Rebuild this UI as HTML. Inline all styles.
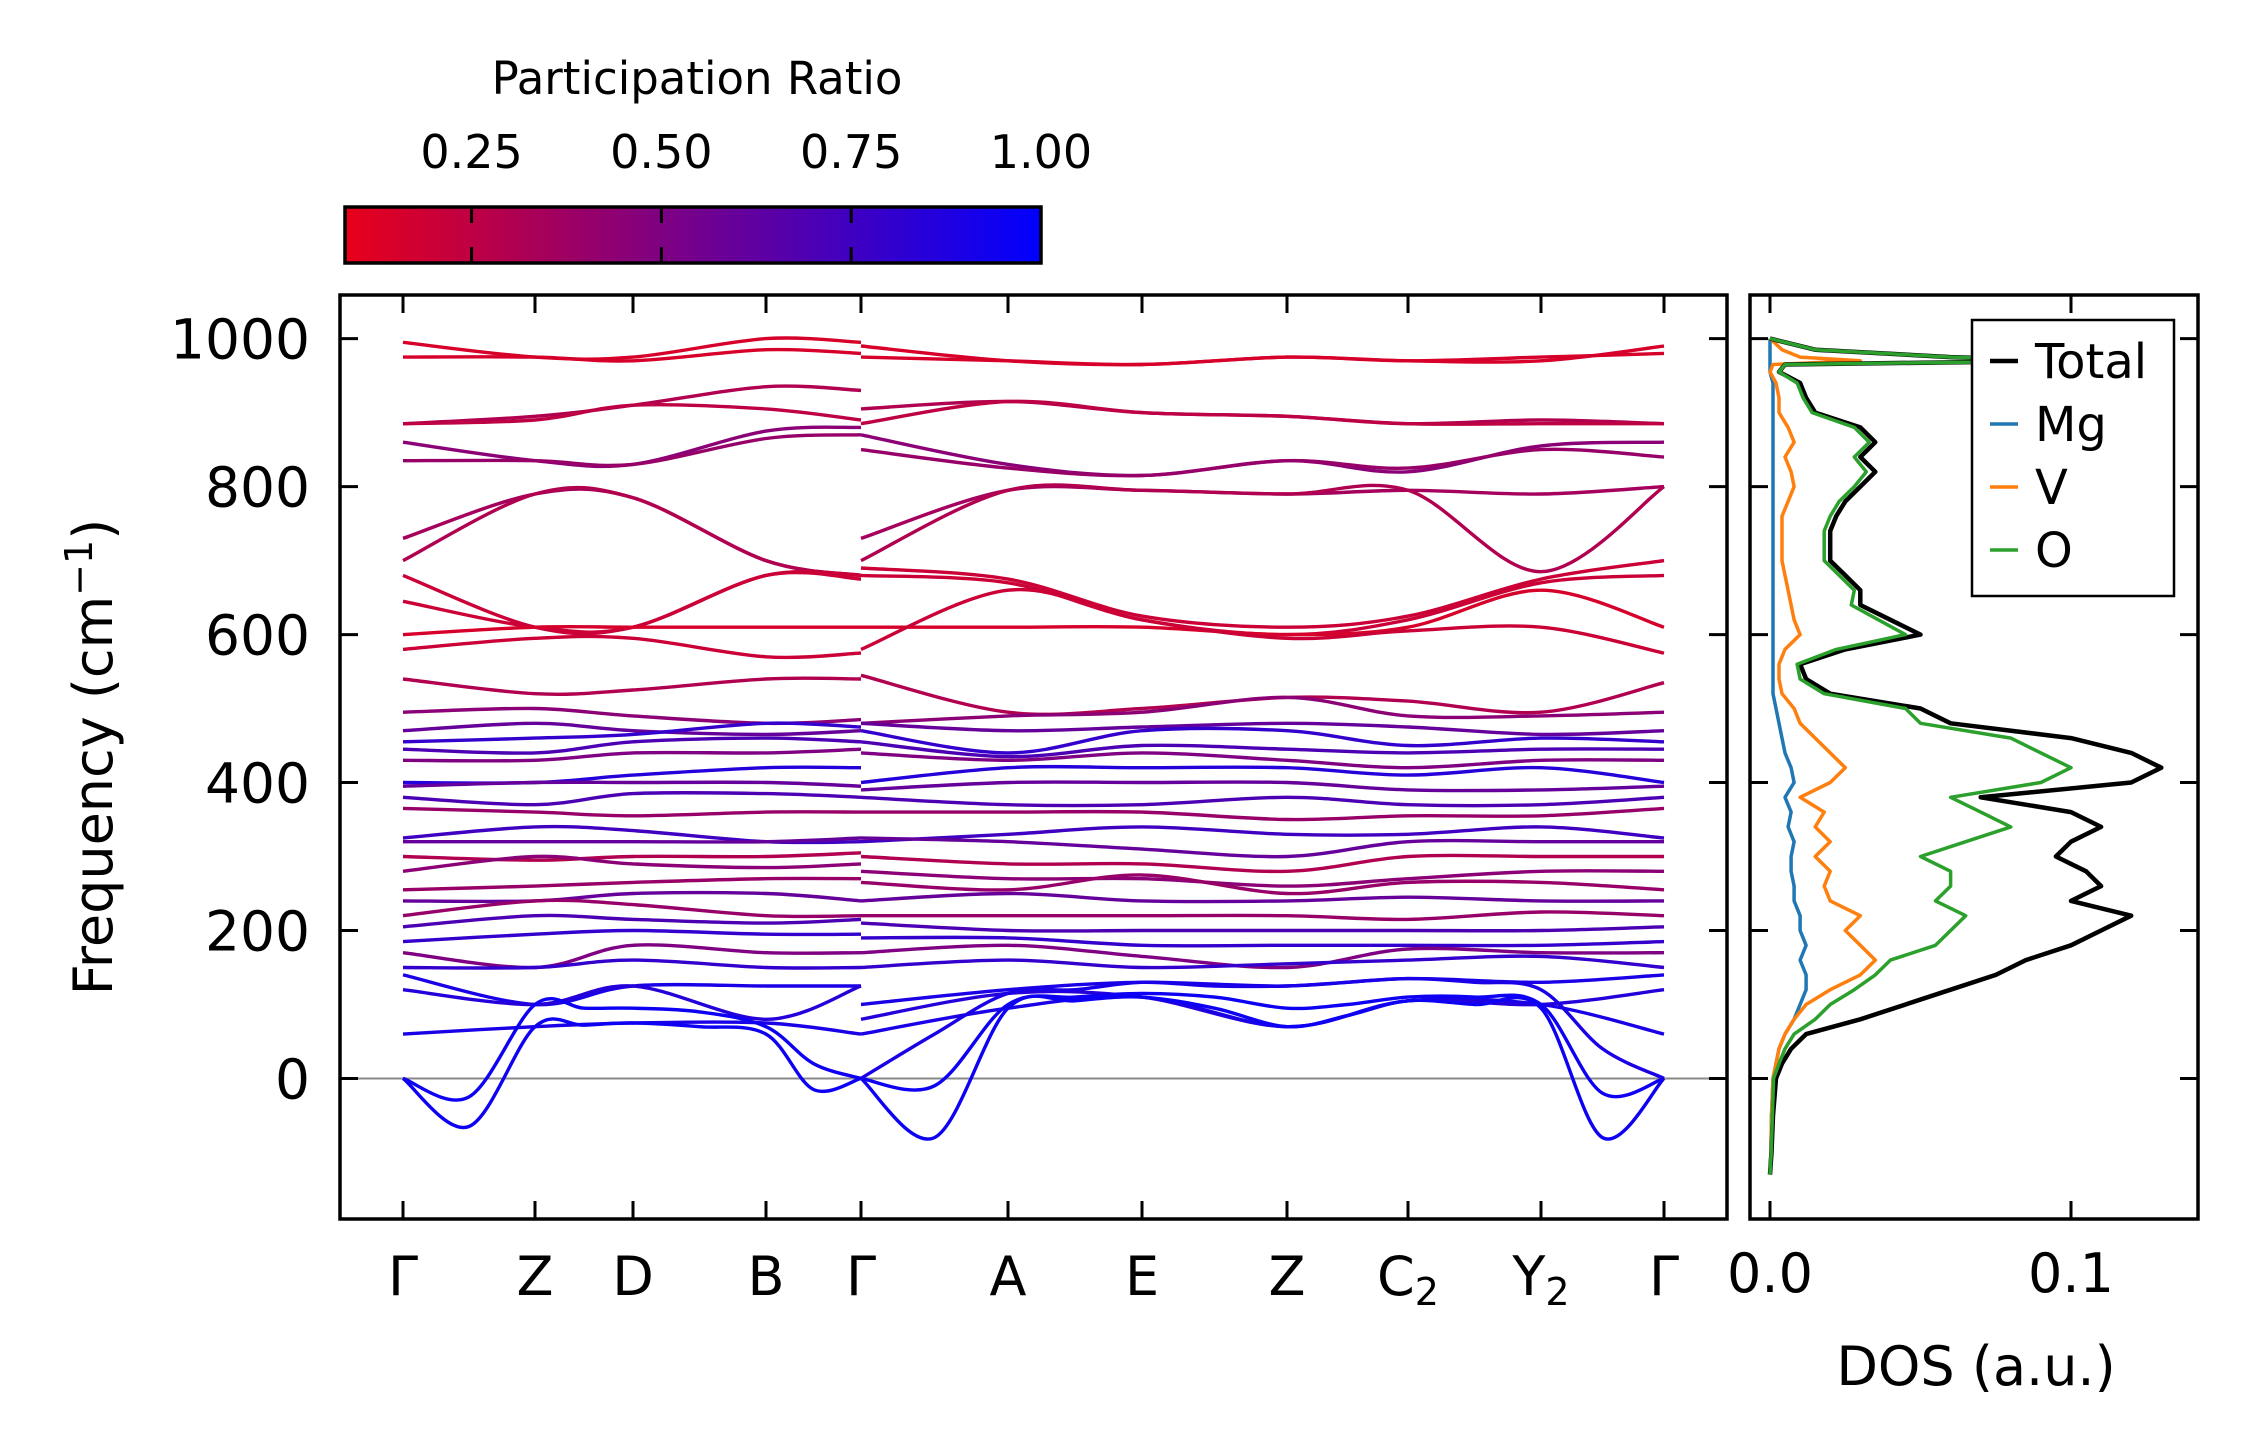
<!DOCTYPE html>
<html><head><meta charset="utf-8"><style>
html,body{margin:0;padding:0;background:#fff;}
svg{display:block;font-family:"DejaVu Sans","Liberation Sans",sans-serif;}
</style></head><body>
<svg id="fig" width="2259" height="1455" viewBox="0 0 2259 1455" xmlns="http://www.w3.org/2000/svg">
<defs>
<linearGradient id="cmap" x1="0" x2="1" y1="0" y2="0">
<stop offset="0" stop-color="rgb(232,0,26)"/><stop offset="1" stop-color="rgb(0,0,255)"/>
</linearGradient>
<clipPath id="bandclip"><rect x="340" y="295" width="1387" height="924"/></clipPath>
<clipPath id="dosclip"><rect x="1750" y="295" width="448" height="924"/></clipPath>
</defs>
<g id="colorbar">
<text x="697" y="94" font-size="45" text-anchor="middle">Participation Ratio</text>
<rect x="345" y="207" width="696" height="56" fill="url(#cmap)" stroke="#000" stroke-width="3.5"/>
</g>
<g id="bands"></g>
<g id="dos"></g>
</svg>
<script>
// ---------------- data ----------------
const kLabels = ["Γ","Z","D","B","Γ","A","E","Z","C₂","Y₂","Γ"];
const freqTicks = [0,200,400,600,800,1000];
const cbarTicks = [0.25,0.50,0.75,1.00];
// bands: values at G Z D B G | G A E Z C2 Y2 G
const bandLeft = [
[995,975,975,1000,995],[975,975,970,985,980],[885,895,910,935,930],[885,890,910,905,890],
[860,835,830,875,880],[835,835,830,865,870],[730,790,785,700,680],[700,790,785,700,680],
[680,610,610,680,680],[645,610,610,680,675],[600,610,610,610,610],[580,595,595,570,575],
[540,520,525,540,540],[495,500,490,480,485],[470,480,470,465,470],[455,460,465,480,475],
[445,440,455,460,455],[430,430,440,440,445],[400,400,410,420,420],[395,400,400,400,395],
[380,370,385,385,380],[365,360,355,360,360],[325,340,335,320,320],[320,320,320,320,325],
[300,295,300,300,305],[280,300,290,285,290],[255,260,265,270,270],[240,240,250,250,240],
[220,240,235,220,220],[205,220,215,210,215],[185,195,200,195,195],[170,150,180,170,170],
[150,150,160,150,150],[140,100,125,125,125],[120,100,125,80,125],[60,70,75,75,60]];
const bandRight = [
[990,970,965,975,970,970,990],[975,970,965,975,970,975,980],[905,915,900,895,885,890,885],[885,915,900,895,885,885,885],
[870,830,815,835,820,855,860],[850,825,815,835,825,850,840],[730,795,795,790,795,790,800],[700,795,795,790,795,685,800],
[690,675,625,610,625,675,700],[680,670,620,600,620,670,680],[610,610,610,600,610,660,610],[580,660,620,595,605,610,575],
[545,495,500,515,510,495,535],[480,490,495,515,490,490,495],[480,470,475,480,475,465,470],[470,440,470,470,450,460,455],
[455,435,450,445,440,445,445],[440,430,440,430,420,430,430],[400,420,420,420,410,420,400],[390,400,400,400,390,390,395],
[380,370,370,380,370,370,380],[360,360,360,350,355,355,365],[320,330,340,330,330,340,325],[325,320,310,300,320,320,320],
[300,290,290,280,300,300,300],[280,270,270,260,270,280,280],[265,255,275,250,265,265,255],[240,250,240,240,245,240,240],
[220,220,220,220,215,225,220],[210,200,200,200,200,200,205],[190,190,180,180,180,180,185],[170,180,165,150,175,170,170],
[150,160,150,155,160,165,150],[100,120,130,125,135,130,140],[80,115,110,70,105,100,120],[60,95,110,70,105,100,60]];
const bandPR = [0.15,0.15,0.3,0.25,0.45,0.4,0.35,0.3,0.2,0.2,0.15,0.2,0.3,0.45,0.6,0.8,0.7,0.5,0.85,0.6,0.7,0.4,0.75,0.6,0.3,0.45,0.4,0.6,0.4,0.7,0.8,0.5,0.8,0.9,0.85,0.9];
// acoustic branches at ticks and midpoints
const acLeft = [[0,-65,70,72,75,70,60,-15,0],[0,-25,100,95,95,90,70,20,0]];
const acRight = [[0,-80,95,105,110,95,70,85,105,100,95,-80,0],[0,-10,100,110,115,110,95,100,110,110,100,-20,0],[0,60,115,120,130,125,125,130,135,130,120,40,0]];
const acPR = [0.95,0.95,0.9];
// DOS
const dosFreq = [-130,-100,-50,0,20,40,60,80,100,120,140,160,180,200,220,240,260,280,300,320,340,360,380,400,420,440,460,480,500,520,540,560,580,600,620,640,660,680,700,720,740,760,780,800,820,840,860,880,900,920,940,955,965,970,975,985,1000];
const dosTotal = [0,0.0005,0.001,0.002,0.004,0.007,0.012,0.03,0.045,0.06,0.075,0.085,0.1,0.11,0.12,0.1,0.11,0.105,0.095,0.1,0.11,0.1,0.07,0.12,0.13,0.12,0.1,0.06,0.05,0.02,0.012,0.01,0.025,0.05,0.04,0.03,0.03,0.025,0.02,0.02,0.02,0.022,0.025,0.03,0.035,0.03,0.035,0.03,0.015,0.012,0.01,0.003,0.005,0.1,0.06,0.015,0];
const dosO = [0,0.0004,0.0008,0.0012,0.003,0.005,0.008,0.015,0.02,0.028,0.035,0.04,0.055,0.06,0.065,0.055,0.06,0.06,0.05,0.065,0.08,0.07,0.06,0.09,0.1,0.09,0.08,0.05,0.045,0.018,0.01,0.009,0.022,0.045,0.036,0.027,0.028,0.023,0.018,0.018,0.018,0.02,0.023,0.028,0.032,0.028,0.033,0.028,0.014,0.011,0.009,0.003,0.005,0.1,0.06,0.015,0];
const dosV = [0,0.0003,0.0005,0.001,0.002,0.003,0.005,0.008,0.012,0.02,0.03,0.035,0.03,0.025,0.03,0.02,0.018,0.02,0.015,0.02,0.015,0.018,0.01,0.02,0.025,0.02,0.015,0.01,0.008,0.004,0.003,0.003,0.005,0.01,0.008,0.007,0.006,0.005,0.004,0.004,0.004,0.004,0.006,0.008,0.007,0.005,0.008,0.006,0.003,0.003,0.002,0.0,0.001,0.03,0.01,0.004,0];
const dosMg = [0,0.0003,0.0005,0.001,0.002,0.003,0.005,0.008,0.01,0.012,0.012,0.01,0.012,0.01,0.01,0.008,0.008,0.007,0.007,0.008,0.006,0.007,0.005,0.008,0.007,0.005,0.004,0.003,0.002,0.001,0.001,0.001,0.001,0.001,0.001,0.001,0.001,0.001,0.001,0.001,0.001,0.001,0.001,0.001,0.001,0.001,0.001,0.001,0.001,0.001,0.001,0.0,0.0,0.0,0.0,0.0,0];
const dosTicks = [0.0,0.1];
// ---------------- layout ----------------
const NS="http://www.w3.org/2000/svg";
const B={l:340,r:1727,t:295,b:1219};
const D={l:1750,r:2198,t:295,b:1219};
const fmin=-190,fmax=1059;
const kPix=[403,535,633,766,861,1008,1142,1287,1408,1541,1664];
const cb={l:345,r:1041,v0:0.0833,v1:1.0};
const yS=f=>B.b-(f-fmin)/(fmax-fmin)*(B.b-B.t);
const dX=v=>1770+v*3010;
const cbX=v=>cb.l+(v-cb.v0)/(cb.v1-cb.v0)*(cb.r-cb.l);
function prColor(p){const t=Math.max(0,Math.min(1,(p-cb.v0)/(cb.v1-cb.v0)));return `rgb(${Math.round(232*(1-t))},0,${Math.round(26+229*t)})`;}
function el(tag,attrs,parent){const e=document.createElementNS(NS,tag);for(const k in attrs)e.setAttribute(k,attrs[k]);parent.appendChild(e);return e;}
function smooth(pts){let d=`M${pts[0][0].toFixed(1)},${pts[0][1].toFixed(1)}`;
 for(let i=0;i<pts.length-1;i++){const p0=pts[Math.max(0,i-1)],p1=pts[i],p2=pts[i+1],p3=pts[Math.min(pts.length-1,i+2)];
 const c1=[p1[0]+(p2[0]-p0[0])/6,p1[1]+(p2[1]-p0[1])/6],c2=[p2[0]-(p3[0]-p1[0])/6,p2[1]-(p3[1]-p1[1])/6];
 d+=`C${c1[0].toFixed(1)},${c1[1].toFixed(1)} ${c2[0].toFixed(1)},${c2[1].toFixed(1)} ${p2[0].toFixed(1)},${p2[1].toFixed(1)}`;}return d;}
const gB=document.getElementById('bands'),gD=document.getElementById('dos'),gC=document.getElementById('colorbar');
// colorbar ticks
cbarTicks.forEach(v=>{const x=cbX(v);
 let t=el('line',{x1:x,x2:x,y1:207,y2:223,stroke:'#000','stroke-width':3},gC);
 
 t=el('line',{x1:x,x2:x,y1:247,y2:263,stroke:'#000','stroke-width':3},gC);
 
 const l=el('text',{x:x,y:168,'font-size':46,'text-anchor':'middle'},gC);l.textContent=v.toFixed(2);
 });
// band frame & zero line
const zl=el('line',{x1:B.l,x2:B.r,y1:yS(0),y2:yS(0),stroke:'#888','stroke-width':2},gB);

const clipG=el('g',{'clip-path':'url(#bandclip)'},gB);

function drawBand(vals,xs,pr){const pts=vals.map((f,i)=>[xs[i],yS(f)]);
 const p=el('path',{d:smooth(pts),fill:'none',stroke:prColor(pr),'stroke-width':3.4},clipG);
 }
const xl=kPix.slice(0,5),xr=kPix.slice(4);
bandLeft.forEach((v,i)=>drawBand(v,xl,bandPR[i]));
bandRight.forEach((v,i)=>drawBand(v,xr,bandPR[i]));
const half=a=>{const o=[];for(let i=0;i<a.length-1;i++){o.push(a[i],(a[i]+a[i+1])/2);}o.push(a[a.length-1]);return o;};
acLeft.forEach((v,i)=>drawBand(v,half(xl),acPR[i]));
acRight.forEach((v,i)=>drawBand(v,half(xr),acPR[i]));
const fr=el('rect',{x:B.l,y:B.t,width:B.r-B.l,height:B.b-B.t,fill:'none',stroke:'#000','stroke-width':3.5},gB);

kPix.forEach((x,i)=>{
 let t=el('line',{x1:x,x2:x,y1:B.b,y2:B.b-18,stroke:'#000','stroke-width':3},gB);
 
 t=el('line',{x1:x,x2:x,y1:B.t,y2:B.t+18,stroke:'#000','stroke-width':3},gB);
 
 const lab=kLabels[i];const tx=el('text',{x:x,y:1295,'font-size':54,'text-anchor':'middle'},gB);
 if(lab.length>1){tx.textContent=lab[0];const s=el('tspan',{'font-size':38,dy:10},tx);s.textContent='2';}
 else tx.textContent=lab;
 });
freqTicks.forEach(f=>{const y=yS(f);
 let t=el('line',{x1:B.l,x2:B.l+18,y1:y,y2:y,stroke:'#000','stroke-width':3},gB);
 
 t=el('line',{x1:B.r,x2:B.r-18,y1:y,y2:y,stroke:'#000','stroke-width':3},gB);
 
 const l=el('text',{x:310,y:y+20,'font-size':55,'text-anchor':'end'},gB);l.textContent=f;
 });
const yt=el('text',{x:112,y:757,'font-size':54,'text-anchor':'middle',transform:'rotate(-90 112 757)'},gB);
yt.innerHTML='Frequency (cm<tspan font-size="38" dy="-20">−1</tspan><tspan dy="20">)</tspan>';

// DOS
const dG=el('g',{'clip-path':'url(#dosclip)'},gD);

const series=[['dos-mg',dosMg,'#1f77b4'],['dos-v',dosV,'#ff7f0e'],['dos-total',dosTotal,'#000'],['dos-o',dosO,'#2ca02c']];
series.forEach(([n,arr,c])=>{const d='M'+arr.map((v,i)=>`${dX(v).toFixed(1)},${yS(dosFreq[i]).toFixed(1)}`).join('L');
 const p=el('path',{d:d,fill:'none',stroke:c,'stroke-width':n==='dos-total'?4.5:3.5,'stroke-linejoin':'round'},dG);
 });
const dfr=el('rect',{x:D.l,y:D.t,width:D.r-D.l,height:D.b-D.t,fill:'none',stroke:'#000','stroke-width':3.5},gD);

freqTicks.forEach(f=>{const y=yS(f);
 let t=el('line',{x1:D.l,x2:D.l+18,y1:y,y2:y,stroke:'#000','stroke-width':3},gD);
 
 t=el('line',{x1:D.r,x2:D.r-18,y1:y,y2:y,stroke:'#000','stroke-width':3},gD);
 });
dosTicks.forEach(v=>{const x=dX(v);
 let t=el('line',{x1:x,x2:x,y1:D.b,y2:D.b-18,stroke:'#000','stroke-width':3},gD);
 
 t=el('line',{x1:x,x2:x,y1:D.t,y2:D.t+18,stroke:'#000','stroke-width':3},gD);
 
 const l=el('text',{x:x,y:1292,'font-size':54,'text-anchor':'middle'},gD);l.textContent=v.toFixed(1);
 });
const dt=el('text',{x:1976,y:1385,'font-size':54,'text-anchor':'middle'},gD);dt.textContent='DOS (a.u.)';

// legend
const lg=el('g',{},gD);
const lr=el('rect',{x:1972,y:320,width:202,height:276,fill:'#fff',stroke:'#000','stroke-width':2.5},lg);

[['Total','#000'],['Mg','#1f77b4'],['V','#ff7f0e'],['O','#2ca02c']].forEach(([n,c],i)=>{const y=361+i*63;
 const ln=el('line',{x1:1990,x2:2018,y1:y,y2:y,stroke:c,'stroke-width':i===0?4.5:3.5},lg);
 
 const t=el('text',{x:2035,y:y+17,'font-size':48},lg);t.textContent=n;
 });
</script>
</body></html>
